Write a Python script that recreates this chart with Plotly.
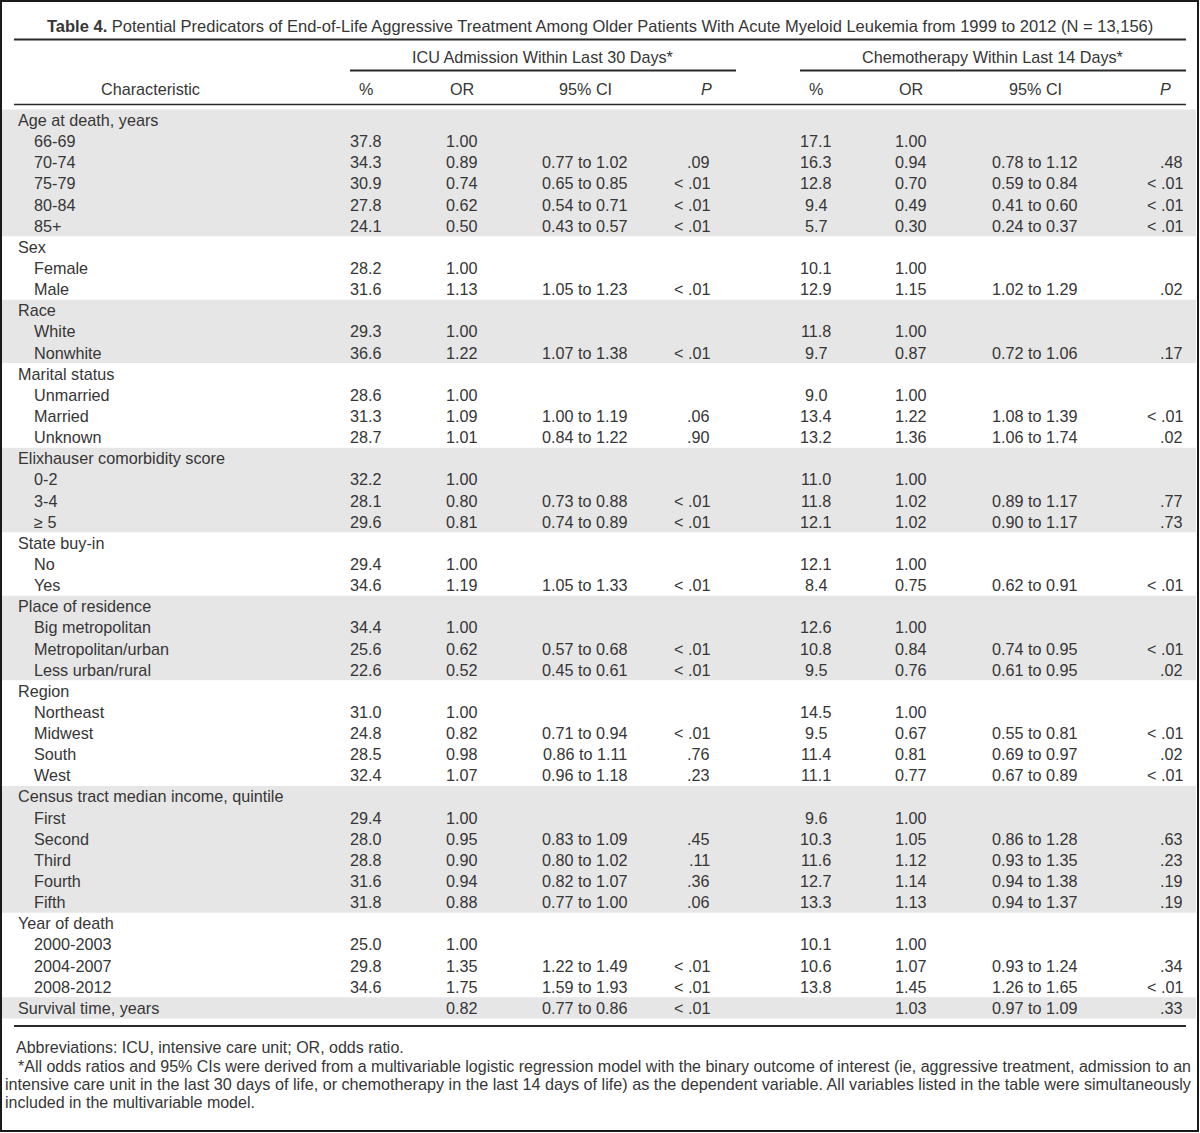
import plotly.graph_objects as go

# ---------------- data ----------------
characteristics = [
    "Age at death, years", "66-69", "70-74", "75-79", "80-84", "85+",
    "Sex", "Female", "Male",
    "Race", "White", "Nonwhite",
    "Marital status", "Unmarried", "Married", "Unknown",
    "Elixhauser comorbidity score", "0-2", "3-4", "≥ 5",
    "State buy-in", "No", "Yes",
    "Place of residence", "Big metropolitan", "Metropolitan/urban", "Less urban/rural",
    "Region", "Northeast", "Midwest", "South", "West",
    "Census tract median income, quintile", "First", "Second", "Third", "Fourth", "Fifth",
    "Year of death", "2000-2003", "2004-2007", "2008-2012",
    "Survival time, years",
]
is_group = [
    1, 0, 0, 0, 0, 0,
    1, 0, 0,
    1, 0, 0,
    1, 0, 0, 0,
    1, 0, 0, 0,
    1, 0, 0,
    1, 0, 0, 0,
    1, 0, 0, 0, 0,
    1, 0, 0, 0, 0, 0,
    1, 0, 0, 0,
    1,
]
icu_pct = ["", "37.8", "34.3", "30.9", "27.8", "24.1",
           "", "28.2", "31.6",
           "", "29.3", "36.6",
           "", "28.6", "31.3", "28.7",
           "", "32.2", "28.1", "29.6",
           "", "29.4", "34.6",
           "", "34.4", "25.6", "22.6",
           "", "31.0", "24.8", "28.5", "32.4",
           "", "29.4", "28.0", "28.8", "31.6", "31.8",
           "", "25.0", "29.8", "34.6",
           ""]
icu_or = ["", "1.00", "0.89", "0.74", "0.62", "0.50",
          "", "1.00", "1.13",
          "", "1.00", "1.22",
          "", "1.00", "1.09", "1.01",
          "", "1.00", "0.80", "0.81",
          "", "1.00", "1.19",
          "", "1.00", "0.62", "0.52",
          "", "1.00", "0.82", "0.98", "1.07",
          "", "1.00", "0.95", "0.90", "0.94", "0.88",
          "", "1.00", "1.35", "1.75",
          "0.82"]
icu_ci = ["", "", "0.77 to 1.02", "0.65 to 0.85", "0.54 to 0.71", "0.43 to 0.57",
          "", "", "1.05 to 1.23",
          "", "", "1.07 to 1.38",
          "", "", "1.00 to 1.19", "0.84 to 1.22",
          "", "", "0.73 to 0.88", "0.74 to 0.89",
          "", "", "1.05 to 1.33",
          "", "", "0.57 to 0.68", "0.45 to 0.61",
          "", "", "0.71 to 0.94", "0.86 to 1.11", "0.96 to 1.18",
          "", "", "0.83 to 1.09", "0.80 to 1.02", "0.82 to 1.07", "0.77 to 1.00",
          "", "", "1.22 to 1.49", "1.59 to 1.93",
          "0.77 to 0.86"]
icu_p = ["", "", ".09", "< .01", "< .01", "< .01",
         "", "", "< .01",
         "", "", "< .01",
         "", "", ".06", ".90",
         "", "", "< .01", "< .01",
         "", "", "< .01",
         "", "", "< .01", "< .01",
         "", "", "< .01", ".76", ".23",
         "", "", ".45", ".11", ".36", ".06",
         "", "", "< .01", "< .01",
         "< .01"]
chemo_pct = ["", "17.1", "16.3", "12.8", "9.4", "5.7",
             "", "10.1", "12.9",
             "", "11.8", "9.7",
             "", "9.0", "13.4", "13.2",
             "", "11.0", "11.8", "12.1",
             "", "12.1", "8.4",
             "", "12.6", "10.8", "9.5",
             "", "14.5", "9.5", "11.4", "11.1",
             "", "9.6", "10.3", "11.6", "12.7", "13.3",
             "", "10.1", "10.6", "13.8",
             ""]
chemo_or = ["", "1.00", "0.94", "0.70", "0.49", "0.30",
            "", "1.00", "1.15",
            "", "1.00", "0.87",
            "", "1.00", "1.22", "1.36",
            "", "1.00", "1.02", "1.02",
            "", "1.00", "0.75",
            "", "1.00", "0.84", "0.76",
            "", "1.00", "0.67", "0.81", "0.77",
            "", "1.00", "1.05", "1.12", "1.14", "1.13",
            "", "1.00", "1.07", "1.45",
            "1.03"]
chemo_ci = ["", "", "0.78 to 1.12", "0.59 to 0.84", "0.41 to 0.60", "0.24 to 0.37",
            "", "", "1.02 to 1.29",
            "", "", "0.72 to 1.06",
            "", "", "1.08 to 1.39", "1.06 to 1.74",
            "", "", "0.89 to 1.17", "0.90 to 1.17",
            "", "", "0.62 to 0.91",
            "", "", "0.74 to 0.95", "0.61 to 0.95",
            "", "", "0.55 to 0.81", "0.69 to 0.97", "0.67 to 0.89",
            "", "", "0.86 to 1.28", "0.93 to 1.35", "0.94 to 1.38", "0.94 to 1.37",
            "", "", "0.93 to 1.24", "1.26 to 1.65",
            "0.97 to 1.09"]
chemo_p = ["", "", ".48", "< .01", "< .01", "< .01",
           "", "", ".02",
           "", "", ".17",
           "", "", "< .01", ".02",
           "", "", ".77", ".73",
           "", "", "< .01",
           "", "", "< .01", ".02",
           "", "", "< .01", ".02", "< .01",
           "", "", ".63", ".23", ".19", ".19",
           "", "", ".34", "< .01",
           ".33"]

title_bold = "Table 4."
title_text = ("Potential Predicators of End-of-Life Aggressive Treatment Among Older Patients "
              "With Acute Myeloid Leukemia from 1999 to 2012 (N = 13,156)")
spanner_labels = ["ICU Admission Within Last 30 Days*", "Chemotherapy Within Last 14 Days*"]
column_labels = ["%", "OR", "95% CI", "<i>P</i>"]
footnotes = [
    "Abbreviations: ICU, intensive care unit; OR, odds ratio.",
    "*All odds ratios and 95% CIs were derived from a multivariable logistic regression model with the binary outcome of interest (ie, aggressive treatment, admission to an",
    "intensive care unit in the last 30 days of life, or chemotherapy in the last 14 days of life) as the dependent variable. All variables listed in the table were simultaneously",
    "included in the multivariable model.",
]

# ---------------- layout constants ----------------
W, H = 1200, 1133
FONT = "Liberation Sans, Arial, Helvetica, sans-serif"
TXT = "#363636"
FS = 16.2
ROW0 = 120.0
ROWH = 21.14
GRAY = "#e6e6e6"

icu_x = {"pct": 366, "or": 462, "ci": 585, "p": 712, "ph": 706}
chemo_x = {"pct": 816, "or": 911, "ci": 1035, "p": 1185, "ph": 1165}

fig = go.Figure()
fig.add_trace(go.Scatter(x=[0, W], y=[0, H], mode="markers",
                         marker=dict(opacity=0), hoverinfo="skip", showlegend=False))

shapes = []
annotations = []


def row_y(i):
    return ROW0 + ROWH * i


def ann(x, y, text, anchor="left", size=FS, color=TXT, family=FONT):
    annotations.append(dict(x=x, y=y, xref="x", yref="y", text=text, showarrow=False,
                            xanchor=anchor, yanchor="middle",
                            font=dict(family=family, size=size, color=color)))


def esc(s):
    return s.replace("<", "&lt;")


# group shading bands
group_starts = [i for i, g in enumerate(is_group) if g]
n = len(characteristics)
for k, s in enumerate(group_starts):
    e = group_starts[k + 1] if k + 1 < len(group_starts) else n
    if k % 2 == 0:
        shapes.append(dict(type="rect", xref="x", yref="y", x0=2, x1=1196,
                           y0=row_y(s) - ROWH / 2, y1=row_y(e - 1) + ROWH / 2,
                           fillcolor=GRAY, line=dict(width=0), layer="below"))

# rules
def hline(x0, x1, y, w):
    shapes.append(dict(type="line", xref="x", yref="y", x0=x0, x1=x1, y0=y, y1=y,
                       line=dict(color="#2a2a2a", width=w)))

hline(14, 1186, 39.5, 2)
hline(350, 736, 70.5, 2)
hline(800, 1186, 70.5, 2)
hline(14, 1186, 104.5, 1.5)
hline(14, 1186, 1026, 2)

# frame
shapes.append(dict(type="rect", xref="x", yref="y", x0=1, x1=W - 2, y0=1, y1=H - 2,
                   line=dict(color="#1a1a1a", width=2), fillcolor="rgba(0,0,0,0)"))

# title
ann(600, 26,
    '<b><span style="font-family:Liberation Sans Narrow, Arial Narrow, sans-serif">'
    + title_bold + "</span></b> " + title_text, anchor="center", size=16.5)

# spanners & column headers
ann(543, 57, spanner_labels[0], anchor="center")
ann(993, 57, spanner_labels[1], anchor="center")
ann(150, 89, "Characteristic", anchor="center")
for cx in (icu_x, chemo_x):
    ann(cx["pct"], 89, column_labels[0], anchor="center")
    ann(cx["or"], 89, column_labels[1], anchor="center")
    ann(cx["ci"], 89, column_labels[2], anchor="center")
    ann(cx["ph"], 89, column_labels[3], anchor="center")

# body
for i, name in enumerate(characteristics):
    y = row_y(i)
    ann(16 if is_group[i] else 32, y, name)
    for cx, vals in ((icu_x, (icu_pct, icu_or, icu_ci, icu_p)),
                     (chemo_x, (chemo_pct, chemo_or, chemo_ci, chemo_p))):
        pct, orr, ci, p = (v[i] for v in vals)
        if pct:
            ann(cx["pct"], y, pct, anchor="center")
        if orr:
            ann(cx["or"], y, orr, anchor="center")
        if ci:
            ann(cx["ci"], y, ci, anchor="center")
        if p:
            ann(cx["p"], y, esc(p), anchor="right")

# footnotes
foot_x = [14, 16, 3, 3]
foot_y = [1047, 1066, 1084, 1102]
foot_size = [16, 16, 16.2, 16]
for fx, fy, fs, t in zip(foot_x, foot_y, foot_size, footnotes):
    ann(fx, fy, t, size=fs)

fig.update_layout(
    width=W, height=H, margin=dict(l=0, r=0, t=0, b=0),
    paper_bgcolor="white", plot_bgcolor="white",
    xaxis=dict(range=[0, W], visible=False, fixedrange=True),
    yaxis=dict(range=[H, 0], visible=False, fixedrange=True),
    shapes=shapes, annotations=annotations, showlegend=False,
)
fig.write_html("out.html", config={"displayModeBar": False},
               post_script="document.body.style.margin='0';document.body.style.padding='0';")
